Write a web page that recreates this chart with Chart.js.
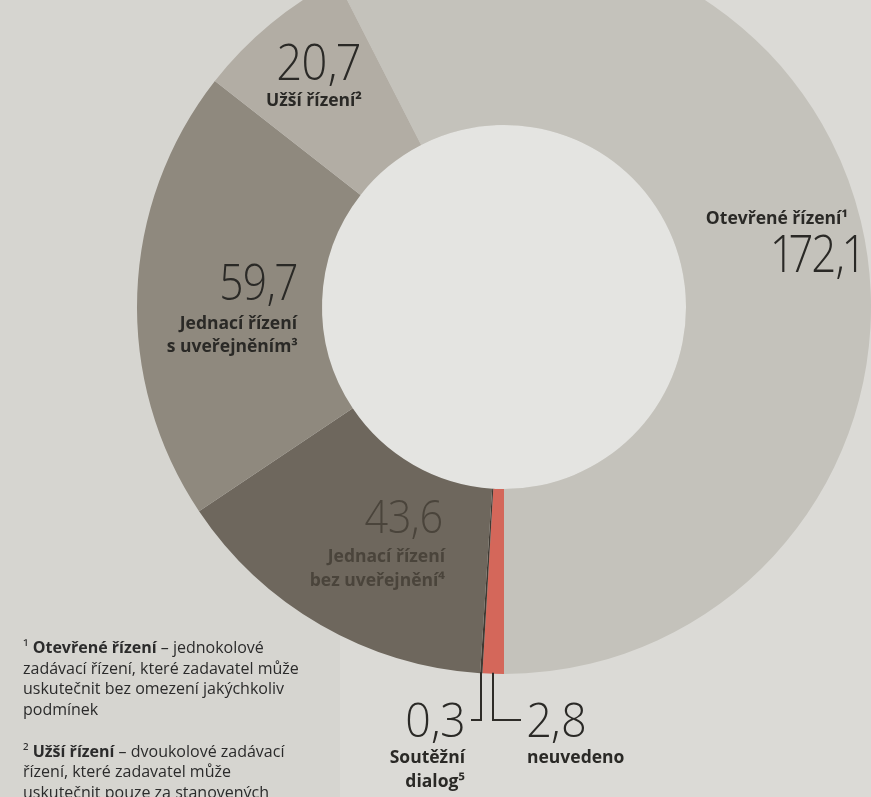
<!DOCTYPE html>
<html lang="cs">
<head>
<meta charset="utf-8">
<script src="https://cdn.jsdelivr.net/npm/chart.js@4.4.1/dist/chart.umd.min.js"></script>
<style>
  html, body { margin: 0; padding: 0; }
  body { width: 871px; height: 797px; overflow: hidden; position: relative; background: #dbdad6; font-family: "Open Sans", "Noto Sans", sans-serif; }
  #panel { position: absolute; left: 0; top: 0; width: 340px; height: 797px; background: #d6d5d0; }
  #wrap { position: absolute; left: 0; top: -60px; width: 1008px; height: 860px; }
  #chart { display: block; }
  #labels { position: absolute; left: 0; top: 0; width: 871px; height: 797px; pointer-events: none; }
  .num { font-family: "Open Sans", sans-serif; font-weight: 300; fill: #2a2926; font-variant-numeric: proportional-nums; }
  .lab { font-family: "Open Sans", sans-serif; font-weight: 700; font-size: 17.5px; fill: #2a2926; }
  .fn { font-family: "Open Sans", sans-serif; font-weight: 400; font-size: 16px; fill: #2b2b2b; }
  .fnb { font-weight: 700; }
</style>
</head>
<body>
<div id="panel"></div>
<div id="wrap"><canvas id="chart" width="1008" height="860" style="width:1008px;height:860px"></canvas></div>
<svg id="labels" width="871" height="797" xmlns="http://www.w3.org/2000/svg"></svg>
<script>
// ---- data ----
const categories = ["Otevřené řízení", "neuvedeno", "Soutěžní dialog", "Jednací řízení bez uveřejnění", "Jednací řízení s uveřejněním", "Užší řízení"];
const values = [172.1, 2.8, 0.3, 43.6, 59.7, 20.7];
const footnoteMarks = ["¹", "", "⁵", "⁴", "³", "²"];
const sliceColors = ["#c4c2bb", "#d4675a", "#3f3a33", "#6e675d", "#8f897e", "#b2ada4"];

const total = values.reduce((a, b) => a + b, 0);
// first slice ends exactly at 6 o'clock
const rotation = 180 - values[0] / total * 360;

const fmt = v => v.toFixed(1).replace('.', ',');

const holePlugin = {
  id: 'hole',
  beforeDatasetsDraw(chart) {
    const arc = chart.getDatasetMeta(0).data[0];
    if (!arc) return;
    const ctx = chart.ctx;
    ctx.save();
    ctx.beginPath();
    ctx.arc(arc.x, arc.y, arc.innerRadius, 0, Math.PI * 2);
    ctx.fillStyle = '#e4e4e1';
    ctx.fill();
    ctx.restore();
  }
};

const leaderPlugin = {
  id: 'leaders',
  afterDatasetsDraw(chart) {
    const meta = chart.getDatasetMeta(0);
    const ctx = chart.ctx;
    const specs = [ {i: 2, dx: -10}, {i: 1, dx: 28} ];
    ctx.save();
    ctx.strokeStyle = '#2e2c28';
    ctx.lineWidth = 2;
    specs.forEach(s => {
      const el = meta.data[s.i];
      const mid = (el.startAngle + el.endAngle) / 2;
      const x = Math.round(el.x + el.outerRadius * Math.cos(mid));
      const y0 = el.y + el.outerRadius * Math.sin(mid) - 1;
      const y1 = el.y + el.outerRadius + 46;
      ctx.beginPath();
      ctx.moveTo(x, y0);
      ctx.lineTo(x, y1);
      ctx.lineTo(x + s.dx, y1);
      ctx.stroke();
    });
    ctx.restore();
  }
};

new Chart(document.getElementById('chart'), {
  type: 'doughnut',
  data: {
    labels: categories,
    datasets: [{
      data: values,
      backgroundColor: sliceColors,
      borderWidth: 0,
      hoverOffset: 0
    }]
  },
  options: {
    responsive: false,
    animation: false,
    rotation: rotation,
    circumference: 360,
    cutout: '49.6%',
    layout: { padding: { left: 137, right: 137, top: 0, bottom: 126 } },
    plugins: { legend: { display: false }, tooltip: { enabled: false } }
  },
  plugins: [holePlugin, leaderPlugin]
});

// ---- text labels (SVG real text) ----
const svg = document.getElementById('labels');
const NS = 'http://www.w3.org/2000/svg';
function txt(x, y, str, cls, anchor, size, fill, width) {
  const t = document.createElementNS(NS, 'text');
  t.setAttribute('x', x); t.setAttribute('y', y);
  t.setAttribute('class', cls);
  t.setAttribute('text-anchor', anchor || 'start');
  if (size) t.setAttribute('font-size', size);
  if (fill) t.setAttribute('style', 'fill:' + fill);
  if (width) { t.setAttribute('textLength', width); t.setAttribute('lengthAdjust', 'spacingAndGlyphs'); }
  t.textContent = str;
  svg.appendChild(t);
  return t;
}
// Otevřené řízení
txt(848, 224, categories[0] + footnoteMarks[0], 'lab', 'end');
txt(862, 272, fmt(values[0]), 'num', 'end', 52, null, 89);
// Užší řízení
txt(360, 80, fmt(values[5]), 'num', 'end', 50, null, 83);
txt(362, 106, categories[5] + footnoteMarks[5], 'lab', 'end');
// Jednací řízení s uveřejněním
txt(297, 300, fmt(values[4]), 'num', 'end', 50, null, 77);
txt(297, 329, 'Jednací řízení', 'lab', 'end');
txt(298, 352, 's uveřejněním' + footnoteMarks[4], 'lab', 'end');
// Jednací řízení bez uveřejnění
txt(443, 533, fmt(values[3]), 'num', 'end', 46, '#4a443b', 79);
txt(445, 562, 'Jednací řízení', 'lab', 'end', null, '#4a443b');
txt(445, 586, 'bez uveřejnění' + footnoteMarks[3], 'lab', 'end', null, '#4a443b');
// Soutěžní dialog
txt(465, 737, fmt(values[2]), 'num', 'end', 48, null, 60);
txt(465, 763, 'Soutěžní', 'lab', 'end');
txt(465, 787, 'dialog' + footnoteMarks[2], 'lab', 'end');
// neuvedeno
txt(527, 737, fmt(values[1]), 'num', 'start', 48, null, 60);
txt(527, 763, categories[1], 'lab', 'start');

// ---- footnotes ----
const footLines = [
  [["¹ ", false], ["Otevřené řízení", true], [" – jednokolové", false]],
  [["zadávací řízení, které zadavatel může", false]],
  [["uskutečnit bez omezení jakýchkoliv", false]],
  [["podmínek", false]],
  null,
  [["² ", false], ["Užší řízení", true], [" – dvoukolové zadávací", false]],
  [["řízení, které zadavatel může", false]],
  [["uskutečnit pouze za stanovených", false]]
];
const footY = [653, 674, 694, 715, 0, 757, 777, 798];
footLines.forEach((line, k) => {
  if (!line) return;
  const t = document.createElementNS(NS, 'text');
  t.setAttribute('x', 23); t.setAttribute('y', footY[k]);
  t.setAttribute('class', 'fn');
  line.forEach(([s, b]) => {
    const sp = document.createElementNS(NS, 'tspan');
    if (b) sp.setAttribute('class', 'fnb');
    sp.textContent = s;
    t.appendChild(sp);
  });
  svg.appendChild(t);
});
</script>
</body>
</html>
